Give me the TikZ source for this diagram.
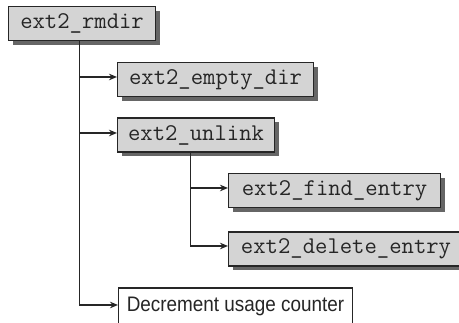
\documentclass[tikz,border=0pt]{standalone}
\usepackage{fontspec}
\newfontfamily\condf[FakeStretch=0.9]{Liberation Sans}
\usetikzlibrary{arrows.meta,shadows}
\begin{document}
\begin{tikzpicture}[x=1pt,y=1pt,
  fn/.style={draw=black!85, fill=black!17, line width=1.1pt,
    font=\ttfamily\fontsize{24}{24}\selectfont, text=black!85,
    minimum height=34pt, inner xsep=6pt, inner ysep=0pt, anchor=west,
    drop shadow={shadow xshift=4.5pt, shadow yshift=-4.5pt, fill=black!60, opacity=1}},
  act/.style={draw=black!85, fill=white, line width=1.1pt,
    font=\condf\fontsize{21}{21}\selectfont, text=black!85,
    minimum height=36pt, minimum width=234pt, inner ysep=0pt, anchor=west},
  conn/.style={draw=black!85, line width=1.8pt},
  arr/.style={conn, -{Stealth[length=8pt, width=6.5pt, inset=2.5pt]}}]
\useasboundingbox (0,0) rectangle (459,323);
\node[fn, minimum width=147pt] (rmdir) at (8,299.5) {ext2\_rmdir};
\node[fn, minimum width=196pt] (empty) at (117,243.5) {ext2\_empty\_dir};
\node[fn, minimum width=157pt] (unlink) at (117,188) {ext2\_unlink};
\node[fn, minimum width=212pt] (find) at (228,132.5) {ext2\_find\_entry};
\node[fn, minimum width=235pt] (delete) at (228,74) {ext2\_delete\_entry};
\node[act] (dec) at (118,17) {Decrement usage counter};
\coordinate (t1) at ([xshift=-2.5pt]rmdir.south);
\coordinate (t2) at ([xshift=-5.5pt]unlink.south);
\draw[arr] (t1) |- ([yshift=1pt]dec.west);
\draw[arr] (t1 |- empty.west) ++(0,2.5) -- ([yshift=2.5pt]empty.west);
\draw[arr] (t1 |- unlink.west) ++(0,2) -- ([yshift=2pt]unlink.west);
\draw[arr] (t2 |- find.west) ++(0,2.5) -- ([yshift=2.5pt]find.west);
\draw[arr] (t2) |- ([yshift=3pt]delete.west);
\end{tikzpicture}
\end{document}
